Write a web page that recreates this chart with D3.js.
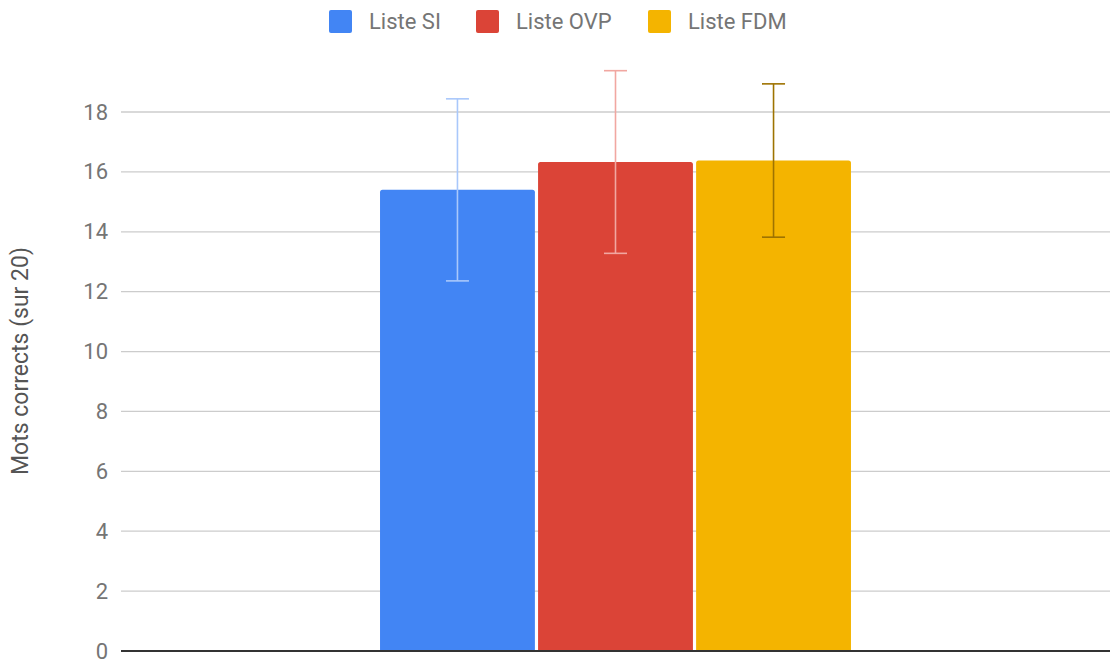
<!DOCTYPE html>
<html lang="fr">
<head>
<meta charset="UTF-8">
<title>Mots corrects</title>
<style>
  body { margin: 0; background: #fff; }
  svg { display: block; font-family: Roboto, "Noto Sans", sans-serif; }
</style>
</head>
<body>
<div id="chart"></div>
<script src="https://d3js.org/d3.v7.min.js"></script>
<script>
const series = ["Liste SI", "Liste OVP", "Liste FDM"]
const means = [15.4, 16.33, 16.38]
const errors = [3.04, 3.05, 2.56]
const yTicks = [0, 2, 4, 6, 8, 10, 12, 14, 16, 18]
const barColors = ["#4285f4", "#db4437", "#f4b400"]
const errColors = ["#a9c8fb", "#f1a7a1", "#9e7300"]

const [width, height] = [1110, 661]
const margin = {left: 121, right: 0, top: 52, bottom: 10}

const svg = d3.select("#chart").append("svg")
    .attr("width", width)
    .attr("height", height)

const y = d3.scaleLinear()
    .domain([0, 20])
    .range([651, 651 - 20 * 29.944])

const x0 = d3.scaleBand()
    .domain(["g"])
    .range([margin.left, width])
    .paddingOuter(0.55)

const x1 = d3.scaleBand()
    .domain(series)
    .range([0, x0.bandwidth()])
    .paddingInner(0.02)

// grid lines
svg.append("g")
    .selectAll("line")
    .data(yTicks.filter(d => d > 0))
    .join("line")
    .attr("x1", margin.left)
    .attr("x2", width)
    .attr("y1", d => y(d))
    .attr("y2", d => y(d))
    .attr("stroke", "#cccccc")
    .attr("stroke-width", 1.3)

// y axis labels
const yAxis = d3.axisLeft(y).tickValues(yTicks).tickSize(0).tickPadding(0)
svg.append("g")
    .attr("transform", `translate(${margin.left - 13},0)`)
    .call(yAxis)
    .call(g => g.select(".domain").remove())
    .call(g => g.selectAll("text")
        .attr("fill", "#757575")
        .attr("font-size", 22)
        .attr("font-family", "Roboto, sans-serif"))

// bars
const bars = svg.append("g")
    .attr("transform", `translate(${x0("g")},0)`)

bars.selectAll("path.bar")
    .data(series)
    .join("path")
    .attr("class", "bar")
    .attr("fill", (d, i) => barColors[i])
    .attr("d", (d, i) => {
        const bx = x1(d), bw = x1.bandwidth()
        const top = y(means[i]), bot = y(0), r = 2.5
        return `M${bx},${bot}V${top + r}Q${bx},${top} ${bx + r},${top}` +
               `H${bx + bw - r}Q${bx + bw},${top} ${bx + bw},${top + r}V${bot}Z`
    })

// error bars
const eb = bars.selectAll("g.err")
    .data(series)
    .join("g")
    .attr("class", "err")
    .attr("stroke", (d, i) => errColors[i])
    .attr("stroke-width", 1.6)

eb.append("line")
    .attr("x1", d => x1(d) + x1.bandwidth() / 2)
    .attr("x2", d => x1(d) + x1.bandwidth() / 2)
    .attr("y1", (d, i) => y(means[i] - errors[i]))
    .attr("y2", (d, i) => y(means[i] + errors[i]))

eb.selectAll("line.cap")
    .data((d, i) => [[d, means[i] - errors[i]], [d, means[i] + errors[i]]])
    .join("line")
    .attr("class", "cap")
    .attr("x1", d => x1(d[0]) + x1.bandwidth() / 2 - 11.5)
    .attr("x2", d => x1(d[0]) + x1.bandwidth() / 2 + 11.5)
    .attr("y1", d => y(d[1]))
    .attr("y2", d => y(d[1]))

// baseline
svg.append("line")
    .attr("x1", margin.left)
    .attr("x2", width)
    .attr("y1", y(0))
    .attr("y2", y(0))
    .attr("stroke", "#333333")
    .attr("stroke-width", 2)

// y title
svg.append("text")
    .attr("transform", `translate(28,361) rotate(-90)`)
    .attr("text-anchor", "middle")
    .attr("fill", "#555555")
    .attr("font-size", 23)
    .text("Mots corrects (sur 20)")

// legend
const legendX = [329, 476, 648]
const legend = svg.append("g")
    .selectAll("g")
    .data(series)
    .join("g")
    .attr("transform", (d, i) => `translate(${legendX[i]},10)`)

legend.append("rect")
    .attr("width", 23)
    .attr("height", 23)
    .attr("rx", 2)
    .attr("fill", (d, i) => barColors[i])

legend.append("text")
    .attr("x", 40)
    .attr("y", 19)
    .attr("fill", "#757575")
    .attr("font-size", 22)
    .text(d => d)
</script>
</body>
</html>
